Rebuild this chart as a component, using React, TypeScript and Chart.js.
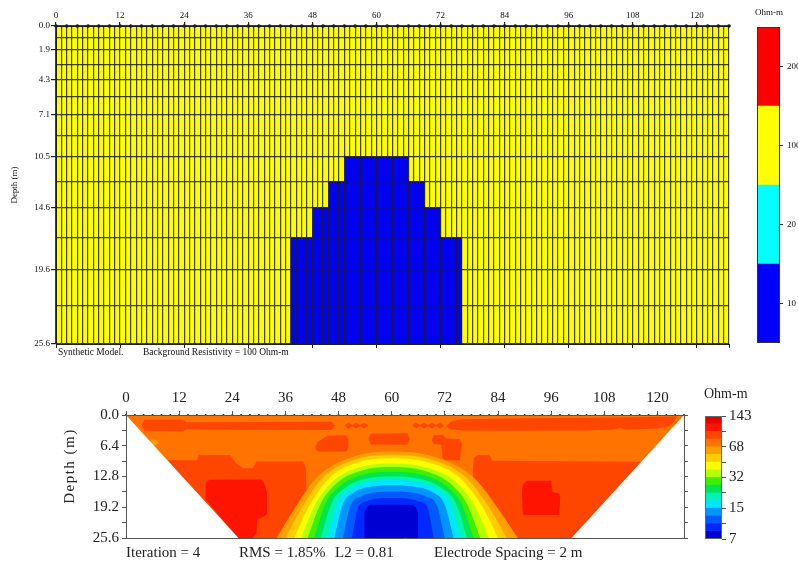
import React, { useEffect, useRef } from 'react';
import { Chart, registerables } from 'chart.js';

Chart.register(...registerables);

type P = [number, number];

// ================= Top panel: synthetic model =================
const MODEL_X_MAX = 126;
const MODEL_DEPTH_MAX = 25.6;
const MODEL_X_LABEL_STEP = 12;
const LAYER_DEPTHS = [0, 0.95, 1.9, 3.1, 4.3, 5.7, 7.1, 8.8, 10.5, 12.5, 14.6, 17.0, 19.6, 22.5, 25.6];
const LABELED_DEPTHS = [0, 1.9, 4.3, 7.1, 10.5, 14.6, 19.6, 25.6];
const ELECTRODES = [0, 2, 4, 6, 8, 10, 12, 14, 16, 18, 20, 22, 24, 26, 28, 30, 32, 34, 36, 38, 40, 42, 44, 46, 48, 50, 52, 54, 56, 58, 60, 62, 64, 66, 68, 70, 72, 74, 76, 78, 80, 82, 84, 86, 88, 90, 92, 94, 96, 98, 100, 102, 104, 106, 108, 110, 112, 114, 116, 118, 120, 122, 124, 126];
const BACKGROUND_RESISTIVITY = 100;
// stepped outline of the low-resistivity block (x, top depth held until next x)
const BLOCK_OUTLINE: P[] = [[44, 17.0], [48, 14.6], [51, 12.5], [54, 10.5], [66, 12.5], [69, 14.6], [72, 17.0], [76, 17.0]];
const MODEL_LEGEND_LABELS = ['10', '20', '100', '200'];
const MODEL_LEGEND_COLORS = ['#0000ff', '#00ffff', '#ffff00', '#ff0000'];

// ================= Bottom panel: inverted section =================
const SECTION_X_MAX = 126;
const SECTION_DEPTH_MAX = 25.6;
const SECTION_DEPTH_TICKS = [0, 3.2, 6.4, 9.6, 12.8, 16, 19.2, 22.4, 25.6];
const SECTION_DEPTH_LABELS = [0, 6.4, 12.8, 19.2, 25.6];
const SECTION_LEGEND_LABELS = ['7', '15', '32', '68', '143'];
const PALETTE = [
  '#0000d2', '#0028ff', '#005aff', '#0096ff', '#00e6ff', '#00f5b4', '#00e650', '#3cf000',
  '#b4ff00', '#ffff00', '#ffcd00', '#ffa000', '#ff7300', '#ff4600', '#ff1400', '#e60000',
];
const ITERATION = 4;
const RMS = '1.85%';
const L2 = '0.81';
const ELECTRODE_SPACING = 2;

// pseudo-section outline (white outside)
const LEFT_EDGE: P[] = [[0, 0], [25.4, 25.6]];
const RIGHT_EDGE: P[] = [[100.6, 25.6], [126, 0]];

// near-surface higher-resistivity strips (level 13)
const SURFACE_LEFT_TOP: P[] = [[3.5, 2.0], [4.2, 1.0], [12.8, 1.0], [13.6, 1.5], [46.4, 1.4], [47.2, 2.2]];
const SURFACE_LEFT_BOTTOM: P[] = [[3.5, 2.0], [4.2, 3.3], [12.8, 3.4], [13.6, 3.0], [46.4, 3.1], [47.2, 2.2]];
const SURFACE_DOTS_A_TOP: P[] = [[49.4, 2.2], [50.2, 1.6], [51.1, 2.1], [52.0, 1.6], [52.9, 2.1], [53.8, 1.6], [54.7, 2.2]];
const SURFACE_DOTS_A_BOTTOM: P[] = [[49.4, 2.2], [50.2, 2.8], [51.1, 2.3], [52.0, 2.8], [52.9, 2.3], [53.8, 2.8], [54.7, 2.2]];
const SURFACE_DOTS_B_TOP: P[] = [[64.6, 2.2], [65.5, 1.6], [66.4, 2.1], [67.3, 1.6], [68.2, 2.1], [69.1, 1.6], [70.0, 2.1], [70.9, 1.6], [71.8, 2.2]];
const SURFACE_DOTS_B_BOTTOM: P[] = [[64.6, 2.2], [65.5, 2.8], [66.4, 2.3], [67.3, 2.8], [68.2, 2.3], [69.1, 2.8], [70.0, 2.3], [70.9, 2.8], [71.8, 2.2]];
const SURFACE_RIGHT_TOP: P[] = [[72.3, 2.4], [73.5, 1.3], [76, 0.9], [90, 0.7], [110, 0.5], [124.5, 0.3]];
const SURFACE_RIGHT_BOTTOM: P[] = [[72.3, 2.4], [73.5, 3.0], [76, 3.2], [90, 3.3], [104, 3.2], [110, 3.0], [111.5, 2.7], [113, 3.0], [120, 2.8], [123, 2.2], [124.5, 0.3]];

// shallow blobs (level 13)
const BLOB_A_TOP: P[] = [[42.7, 7.0], [43.2, 5.6], [45.5, 4.3], [49.6, 4.2], [50.2, 5.0], [50.3, 6.5]];
const BLOB_A_BOTTOM: P[] = [[42.7, 7.0], [43.5, 7.6], [49.8, 7.6], [50.3, 6.5]];
const BLOB_B_TOP: P[] = [[54.7, 5.0], [55.3, 3.9], [63.5, 3.8], [64.1, 5.0]];
const BLOB_B_BOTTOM: P[] = [[54.7, 5.0], [55.3, 6.1], [63.5, 6.2], [64.1, 5.0]];
const BLOB_C_TOP: P[] = [[69.0, 5.2], [69.5, 4.2], [71.5, 4.1], [72.4, 4.9], [75.3, 5.0], [75.9, 6.0]];
const BLOB_C_BOTTOM: P[] = [[69.0, 5.2], [69.5, 6.0], [71.2, 6.2], [71.5, 9.0], [72.1, 9.4], [75.4, 9.4], [75.9, 6.0]];

// deep side zones (level 13), filled down to the bottom
const LEFT_ZONE_TOP: P[] = [[8.0, 9.4], [16, 9.4], [16.4, 8.3], [23.5, 8.3], [25, 10.2], [26.4, 11.1], [28.6, 11.1], [29.5, 9.7], [40, 9.7], [40.6, 11], [40.7, 14]];
const RIGHT_ZONE_TOP: P[] = [[78.3, 11.5], [78.6, 8.8], [79.5, 8.3], [82, 8.3], [82.7, 9.5], [100, 9.6], [126, 9.8]];

// red bodies (level 14)
const RED_LEFT_TOP: P[] = [[17.9, 17.5], [18.0, 14.2], [18.8, 13.5], [30.5, 13.4], [31.3, 14.3], [31.8, 16.0], [31.9, 20.5]];
const RED_LEFT_BOTTOM: P[] = [[17.9, 17.5], [25.3, 25.6], [28.5, 25.6], [29.5, 24.5], [29.6, 21.8], [31.0, 21.2], [31.9, 20.5]];
const RED_RIGHT_TOP: P[] = [[89.4, 16], [89.6, 14.5], [90.5, 13.7], [96, 13.7], [96.3, 16.1], [97.8, 16.3], [98.1, 17]];
const RED_RIGHT_BOTTOM: P[] = [[89.4, 16], [89.6, 20.6], [90, 20.8], [97.8, 20.8], [98.1, 17]];

// small lighter patch at the left edge (level 11)
const PATCH_TOP: P[] = [[5.2, 5.7], [5.8, 5.1], [7.0, 5.2], [7.3, 6.0]];
const PATCH_BOTTOM: P[] = [[5.2, 5.7], [6.0, 6.4], [7.3, 6.0]];

// low-resistivity anomaly: contour boundaries, outer to inner
const ARCH_11: P[] = [[34, 25.6], [37.9, 19.7], [43.1, 13.0], [50.9, 8.8], [60, 7.6], [70.0, 8.8], [78.5, 13.0], [84.2, 19.7], [88.5, 25.6]];
const ARCH_10: P[] = [[36, 25.6], [39.6, 19.4], [44.4, 13.1], [51.6, 9.3], [60, 8.3], [69.1, 9.3], [76.9, 13.1], [82.1, 19.4], [86, 25.6]];
const ARCH_9: P[] = [[38, 25.6], [41.3, 19.0], [45.7, 13.3], [52.3, 9.9], [60, 9.0], [68.4, 9.9], [75.6, 13.3], [80.4, 19.0], [84, 25.6]];
const ARCH_8: P[] = [[39.5, 25.6], [42.6, 18.8], [46.7, 13.8], [52.8, 10.9], [60, 10.1], [67.7, 10.9], [74.3, 13.8], [78.7, 18.8], [82, 25.6]];
const ARCH_7: P[] = [[41, 25.6], [43.9, 18.5], [47.7, 14.1], [53.4, 11.5], [60, 10.8], [67.0, 11.5], [73.0, 14.1], [77.0, 18.5], [80, 25.6]];
const ARCH_6: P[] = [[42.5, 25.6], [45.1, 18.4], [48.6, 14.6], [53.9, 12.4], [60, 11.8], [66.5, 12.4], [72.0, 14.6], [75.7, 18.4], [78.5, 25.6]];
const ARCH_5: P[] = [[44, 25.6], [46.4, 18.4], [49.6, 15.1], [54.4, 13.2], [60, 12.8], [66.0, 13.2], [71.1, 15.1], [74.5, 18.4], [77, 25.6]];
const ARCH_4: P[] = [[45.5, 25.6], [47.7, 18.3], [50.6, 15.4], [54.9, 13.9], [60, 13.5], [65.4, 13.9], [70.1, 15.4], [73.2, 18.3], [75.5, 25.6]];
const ARCH_3: P[] = [[47, 25.6], [49.0, 18.5], [51.6, 16.0], [55.5, 14.9], [60, 14.6], [64.9, 14.9], [69.1, 16.0], [71.9, 18.5], [74, 25.6]];
const ARCH_2: P[] = [[49, 25.6], [50.7, 18.8], [52.9, 17.0], [56.2, 16.1], [60, 15.9], [64.2, 16.1], [67.8, 17.0], [70.2, 18.8], [72, 25.6]];
const ARCH_1: P[] = [[51, 25.6], [52.4, 19.3], [54.2, 18.0], [56.9, 17.4], [60, 17.3], [63.3, 17.4], [66.2, 18.0], [68.1, 19.3], [69.5, 25.6]];
const CORE_0: P[] = [[53.8, 20.5], [54.4, 19.2], [55.8, 18.7], [64.2, 18.7], [65.4, 19.2], [66, 20.5]];
const ARCHES = [ARCH_11, ARCH_10, ARCH_9, ARCH_8, ARCH_7, ARCH_6, ARCH_5, ARCH_4, ARCH_3, ARCH_2, ARCH_1];
const ARCH_LEVELS = [11, 10, 9, 8, 7, 6, 5, 4, 3, 2, 1];

// ================= helpers =================
const SERIF = "'Liberation Serif', 'Times New Roman', serif";
const pts = (a: P[]) => a.map(([x, y]) => ({ x, y }));

const area = (a: P[], color: string, bottom: number, extra: any = {}) => ({
  data: pts(a), fill: { value: bottom }, backgroundColor: color,
  borderWidth: 0, borderColor: 'rgba(0,0,0,0)', pointRadius: 0, ...extra,
});
const band = (top: P[], bottom: P[], color: string) => [
  { data: pts(top), fill: false, borderWidth: 0, borderColor: 'rgba(0,0,0,0)', pointRadius: 0 },
  { data: pts(bottom), fill: '-1', backgroundColor: color, borderWidth: 0, borderColor: 'rgba(0,0,0,0)', pointRadius: 0 },
];

type TextItem = { text: string; x: number; y: number; font: string; align?: CanvasTextAlign; rotate?: number; spacing?: string; color?: string };
const textPlugin = (id: string, items: TextItem[]) => ({
  id,
  afterDraw(chart: any) {
    const ctx = chart.ctx as CanvasRenderingContext2D;
    items.forEach((it) => {
      ctx.save();
      ctx.font = it.font;
      ctx.fillStyle = it.color || '#111';
      ctx.textAlign = it.align || 'left';
      ctx.textBaseline = 'middle';
      if (it.spacing) (ctx as any).letterSpacing = it.spacing;
      ctx.translate(it.x, it.y);
      if (it.rotate) ctx.rotate(it.rotate);
      ctx.fillText(it.text, 0, 0);
      ctx.restore();
    });
  },
});
const framePlugin = (color: string) => ({
  id: 'frame',
  afterDraw(chart: any) {
    const { left, top, right, bottom } = chart.chartArea;
    const ctx = chart.ctx as CanvasRenderingContext2D;
    ctx.save();
    ctx.strokeStyle = color;
    ctx.lineWidth = 1;
    ctx.strokeRect(Math.round(left) + 0.5, Math.round(top) + 0.5, Math.round(right - left) - 1, Math.round(bottom - top) - 1);
    ctx.restore();
  },
});

const baseOptions = {
  responsive: false,
  animation: false,
  devicePixelRatio: 1,
  events: [] as any[],
};

// ================= configs =================
function topModelConfig() {
  const datasets: any[] = [
    area([[0, 0], [MODEL_X_MAX, 0]], '#ffff00', MODEL_DEPTH_MAX),
    area(BLOCK_OUTLINE, '#0000ff', MODEL_DEPTH_MAX, { stepped: 'before' }),
    { data: ELECTRODES.map((x) => ({ x, y: 0 })), showLine: false, pointRadius: 1.8, pointBackgroundColor: '#111', pointBorderWidth: 0, clip: false },
  ];
  datasets.forEach((d, i) => (d.order = -i));
  const font = { family: SERIF, size: 9 };
  const lineCol = 'rgba(30,30,20,0.85)';
  return {
    type: 'line',
    data: { datasets },
    options: {
      ...baseOptions,
      layout: { padding: { left: 0, right: 16, top: 0, bottom: 17 } },
      plugins: { legend: { display: false }, tooltip: { enabled: false } },
      scales: {
        x: {
          type: 'linear', position: 'top', min: 0, max: MODEL_X_MAX,
          ticks: {
            stepSize: 1, autoSkip: false, maxRotation: 0, padding: 1, font, color: '#111',
            callback: (v: number) => (v % MODEL_X_LABEL_STEP === 0 ? String(v) : ''),
          },
          grid: {
            z: 1, color: lineCol, lineWidth: 1.2, tickLength: 4,
            tickColor: (c: any) => (c.tick && c.tick.value % MODEL_X_LABEL_STEP === 0 ? '#222' : 'rgba(0,0,0,0)'),
          },
          border: { z: 1, color: '#1e1e1e' },
          afterFit: (s: any) => { s.height = 26; },
        },
        x2: {
          type: 'linear', position: 'bottom', min: 0, max: MODEL_X_MAX,
          ticks: { stepSize: MODEL_X_LABEL_STEP, display: false },
          grid: { z: 1, drawOnChartArea: false, tickLength: 4, color: '#222' },
          border: { z: 1, color: '#1e1e1e' },
          afterFit: (s: any) => { s.height = 4; },
        },
        y: {
          type: 'linear', reverse: true, min: 0, max: MODEL_DEPTH_MAX,
          afterBuildTicks: (ax: any) => { ax.ticks = LAYER_DEPTHS.map((v) => ({ value: v })); },
          ticks: {
            autoSkip: false, padding: 1, font, color: '#111',
            callback: (v: number) => (LABELED_DEPTHS.includes(v) ? v.toFixed(1) : ''),
          },
          grid: {
            z: 1, color: lineCol, lineWidth: 1.2, tickLength: 5,
            tickColor: (c: any) => (c.tick && LABELED_DEPTHS.includes(c.tick.value) ? '#222' : 'rgba(0,0,0,0)'),
          },
          border: { z: 1, color: '#1e1e1e' },
          title: { display: true, text: 'Depth (m)', font, color: '#111', padding: { top: 9, bottom: 0 } },
          afterFit: (s: any) => { s.width = 56; },
        },
      },
    },
    plugins: [
      textPlugin('topTexts', [
        { text: 'Synthetic Model.', x: 58, y: 352, font: `9.5px ${SERIF}` },
        { text: `Background Resistivity = ${BACKGROUND_RESISTIVITY} Ohm-m`, x: 143, y: 352, font: `9.5px ${SERIF}` },
      ]),
    ],
  };
}

function topLegendConfig() {
  const datasets = MODEL_LEGEND_COLORS.map((c) => ({
    data: [1], backgroundColor: c, borderWidth: 0, barPercentage: 1, categoryPercentage: 1,
  }));
  return {
    type: 'bar',
    data: { labels: [''], datasets },
    options: {
      ...baseOptions,
      layout: { padding: { left: 17, right: 0, top: 27, bottom: 22 } },
      plugins: { legend: { display: false }, tooltip: { enabled: false } },
      scales: {
        x: { display: false, stacked: true },
        y: {
          position: 'right', stacked: true, min: 0, max: MODEL_LEGEND_LABELS.length,
          afterBuildTicks: (ax: any) => { ax.ticks = MODEL_LEGEND_LABELS.map((_, i) => ({ value: i + 0.5 })); },
          ticks: { autoSkip: false, padding: 4, font: { family: SERIF, size: 9 }, color: '#111', callback: (_v: number, i: number) => MODEL_LEGEND_LABELS[i] },
          grid: { drawOnChartArea: false, tickLength: 3, color: '#333' },
          border: { display: false },
          afterFit: (s: any) => { s.width = 18; },
        },
      },
    },
    plugins: [
      framePlugin('#333'),
      textPlugin('topLegendTexts', [{ text: 'Ohm-m', x: 29, y: 13, font: `9px ${SERIF}`, align: 'center' }]),
    ],
  };
}

function sectionConfig() {
  const B = SECTION_DEPTH_MAX;
  const ds: any[] = [];
  ds.push(area([[0, 0], [SECTION_X_MAX, 0]], PALETTE[12], B));
  ds.push(...band(SURFACE_LEFT_TOP, SURFACE_LEFT_BOTTOM, PALETTE[13]));
  ds.push(...band(SURFACE_DOTS_A_TOP, SURFACE_DOTS_A_BOTTOM, PALETTE[13]));
  ds.push(...band(SURFACE_DOTS_B_TOP, SURFACE_DOTS_B_BOTTOM, PALETTE[13]));
  ds.push(...band(SURFACE_RIGHT_TOP, SURFACE_RIGHT_BOTTOM, PALETTE[13]));
  ds.push(...band(BLOB_A_TOP, BLOB_A_BOTTOM, PALETTE[13]));
  ds.push(...band(BLOB_B_TOP, BLOB_B_BOTTOM, PALETTE[13]));
  ds.push(...band(BLOB_C_TOP, BLOB_C_BOTTOM, PALETTE[13]));
  ds.push(area(LEFT_ZONE_TOP, PALETTE[13], B));
  ds.push(area(RIGHT_ZONE_TOP, PALETTE[13], B));
  ds.push(...band(RED_LEFT_TOP, RED_LEFT_BOTTOM, PALETTE[14]));
  ds.push(...band(RED_RIGHT_TOP, RED_RIGHT_BOTTOM, PALETTE[14]));
  ds.push(...band(PATCH_TOP, PATCH_BOTTOM, PALETTE[11]));
  ds.push(area(LEFT_EDGE, '#ffffff', B));
  ds.push(area(RIGHT_EDGE, '#ffffff', B));
  ARCHES.forEach((a, i) => ds.push(area(a, PALETTE[ARCH_LEVELS[i]], B, { cubicInterpolationMode: 'monotone' })));
  ds.push(area(CORE_0, PALETTE[0], B, { cubicInterpolationMode: 'monotone' }));
  ds.push({ data: ELECTRODES.map((x) => ({ x, y: 0 })), showLine: false, pointRadius: 1, pointBackgroundColor: '#222', pointBorderWidth: 0, clip: false });
  ds.forEach((d, i) => (d.order = -i));

  const font = { family: SERIF, size: 15 };
  const axisColor = '#555';
  return {
    type: 'line',
    data: { datasets: ds },
    options: {
      ...baseOptions,
      layout: { padding: { left: 0, right: 11, top: 0, bottom: 24 } },
      plugins: { legend: { display: false }, tooltip: { enabled: false } },
      scales: {
        x: {
          type: 'linear', position: 'top', min: 0, max: SECTION_X_MAX,
          ticks: {
            stepSize: ELECTRODE_SPACING, autoSkip: false, maxRotation: 0, padding: 4, font, color: '#222',
            callback: (v: number) => (v % 12 === 0 ? String(v) : ''),
          },
          grid: {
            z: 1, drawOnChartArea: false, tickLength: 4,
            tickColor: (c: any) => (c.tick && c.tick.value % 12 === 0 ? axisColor : 'rgba(0,0,0,0)'),
          },
          border: { z: 1, color: axisColor },
          afterFit: (s: any) => { s.height = 50; },
        },
        x2: {
          type: 'linear', position: 'bottom', min: 0, max: SECTION_X_MAX,
          ticks: { display: false },
          grid: { z: 1, drawOnChartArea: false, drawTicks: false },
          border: { z: 1, color: axisColor },
          afterFit: (s: any) => { s.height = 0; },
        },
        y: {
          type: 'linear', reverse: true, min: 0, max: SECTION_DEPTH_MAX,
          afterBuildTicks: (ax: any) => { ax.ticks = SECTION_DEPTH_TICKS.map((v) => ({ value: v })); },
          ticks: {
            autoSkip: false, padding: 3, font, color: '#222',
            callback: (v: number) => (SECTION_DEPTH_LABELS.includes(v) ? v.toFixed(1) : ''),
          },
          grid: { z: 1, drawOnChartArea: false, tickLength: 4, tickColor: axisColor },
          border: { z: 1, color: axisColor },
          afterFit: (s: any) => { s.width = 126; },
        },
        y2: {
          type: 'linear', position: 'right', reverse: true, min: 0, max: SECTION_DEPTH_MAX,
          afterBuildTicks: (ax: any) => { ax.ticks = SECTION_DEPTH_TICKS.map((v) => ({ value: v })); },
          ticks: { display: false },
          grid: { z: 1, drawOnChartArea: false, tickLength: 4, tickColor: axisColor },
          border: { z: 1, color: axisColor },
          afterFit: (s: any) => { s.width = 5; },
        },
      },
    },
    plugins: [
      textPlugin('sectionTexts', [
        { text: `Iteration = ${ITERATION}`, x: 126, y: 188, font: `15px ${SERIF}`, color: '#222' },
        { text: `RMS = ${RMS}`, x: 239, y: 188, font: `15px ${SERIF}`, color: '#222' },
        { text: `L2 = ${L2}`, x: 335, y: 188, font: `15px ${SERIF}`, color: '#222' },
        { text: `Electrode Spacing = ${ELECTRODE_SPACING} m`, x: 434, y: 188, font: `15px ${SERIF}`, color: '#222' },
        { text: 'Depth (m)', x: 70, y: 101, font: `15px ${SERIF}`, align: 'center', rotate: -Math.PI / 2, spacing: '1.5px', color: '#222' },
      ]),
    ],
  };
}

function sectionLegendConfig() {
  const datasets = PALETTE.map((c) => ({
    data: [1], backgroundColor: c, borderWidth: 0, barPercentage: 1, categoryPercentage: 1,
  }));
  return {
    type: 'bar',
    data: { labels: [''], datasets },
    options: {
      ...baseOptions,
      layout: { padding: { left: 15, right: 0, top: 51, bottom: 23 } },
      plugins: { legend: { display: false }, tooltip: { enabled: false } },
      scales: {
        x: { display: false, stacked: true },
        y: {
          position: 'right', stacked: true, min: 0, max: PALETTE.length,
          ticks: {
            stepSize: 2, autoSkip: false, padding: 3, font: { family: SERIF, size: 15 }, color: '#222',
            callback: (v: number) => (v % 4 === 0 ? SECTION_LEGEND_LABELS[v / 4] : ''),
          },
          grid: { drawOnChartArea: false, tickLength: 4, tickColor: '#555' },
          border: { display: false },
          afterFit: (s: any) => { s.width = 76; },
        },
      },
    },
    plugins: [
      framePlugin('#666'),
      textPlugin('sectionLegendTexts', [{ text: 'Ohm-m', x: 14, y: 29, font: `14px ${SERIF}`, color: '#222' }]),
    ],
  };
}

// ================= components =================
function ChartBox({ left, top, width, height, make }: { left: number; top: number; width: number; height: number; make: () => any }) {
  const ref = useRef<HTMLCanvasElement>(null);
  useEffect(() => {
    const chart = new Chart(ref.current as HTMLCanvasElement, make());
    return () => chart.destroy();
  }, []);
  return (
    <canvas
      ref={ref}
      width={width}
      height={height}
      style={{ position: 'absolute', left, top, width, height, display: 'block' }}
    />
  );
}

export default function App() {
  return (
    <div style={{ position: 'fixed', left: 0, top: 0, width: 798, height: 562, background: '#ffffff', overflow: 'hidden' }}>
      <ChartBox left={0} top={0} width={745} height={365} make={topModelConfig} />
      <ChartBox left={740} top={0} width={58} height={365} make={topLegendConfig} />
      <ChartBox left={0} top={365} width={700} height={197} make={sectionConfig} />
      <ChartBox left={690} top={365} width={108} height={197} make={sectionLegendConfig} />
    </div>
  );
}
